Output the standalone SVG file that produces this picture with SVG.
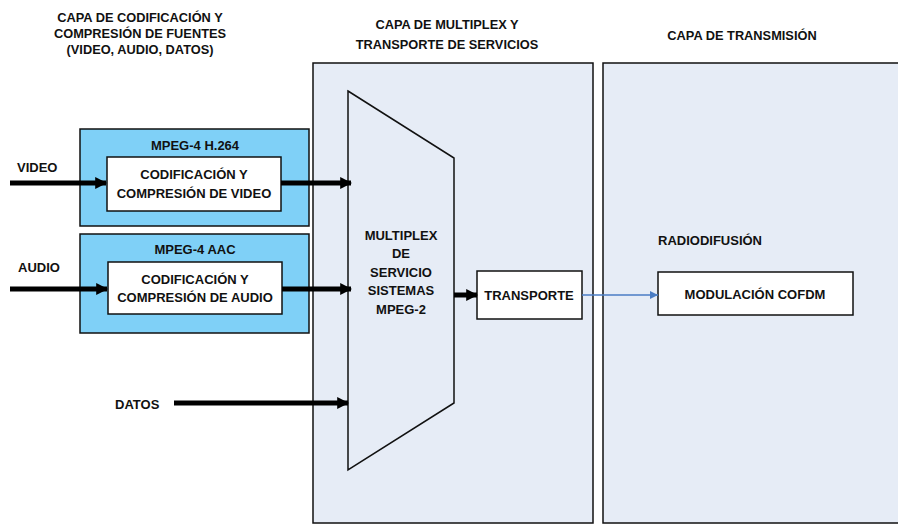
<svg xmlns="http://www.w3.org/2000/svg" width="898" height="525" viewBox="0 0 898 525">
<defs>
<style>
text{font-family:"Liberation Sans",Arial,sans-serif;font-weight:bold;fill:#111;}
.t{font-size:12.8px;text-anchor:middle;}
.s{font-size:13px;text-anchor:middle;}
.l{font-size:13px;}
.panel{fill:#e6ecf6;stroke:#111;stroke-width:1.5;}
.blue{fill:#7fd0f7;stroke:#111;stroke-width:1.5;}
.box{fill:#fff;stroke:#111;stroke-width:1.5;}
.thick{stroke:#000;stroke-width:5;fill:none;}
</style>
<marker id="ah" viewBox="0 0 10 10" refX="9" refY="5" markerWidth="2.4" markerHeight="2.8" orient="auto" markerUnits="strokeWidth">
<path d="M0,0 L10,5 L0,10 z" fill="#000"/>
</marker>
<marker id="ab" viewBox="0 0 10 10" refX="10" refY="5" markerWidth="10" markerHeight="8" orient="auto" markerUnits="userSpaceOnUse">
<path d="M0,0 L10,5 L0,10 z" fill="#4a7cc4"/>
</marker>
</defs>
<rect width="898" height="525" fill="#fff"/>
<g id="titles">
<text class="t" x="140" y="22">CAPA DE CODIFICACIÓN Y</text>
<text class="t" x="140" y="38">COMPRESIÓN DE FUENTES</text>
<text class="t" x="140" y="54">(VIDEO, AUDIO, DATOS)</text>
<text class="t" x="447" y="29">CAPA DE MULTIPLEX Y</text>
<text class="t" x="447" y="49">TRANSPORTE DE SERVICIOS</text>
<text class="t" x="742" y="40">CAPA DE TRANSMISIÓN</text>
</g>
<g id="panel-multiplex"><rect class="panel" x="313" y="63" width="280" height="460"/></g>
<g id="panel-transmision"><rect class="panel" x="603" y="63" width="300" height="460"/></g>
<g id="video-block">
<rect class="blue" x="80" y="129" width="229" height="97"/>
<text class="s" x="195" y="150">MPEG-4 H.264</text>
<rect class="box" x="107" y="157" width="174" height="54"/>
<text class="s" x="194" y="179">CODIFICACIÓN Y</text>
<text class="s" x="194" y="198">COMPRESIÓN DE VIDEO</text>
</g>
<g id="audio-block">
<rect class="blue" x="80" y="234" width="229" height="99"/>
<text class="s" x="195" y="254">MPEG-4 AAC</text>
<rect class="box" x="108" y="262" width="174" height="52"/>
<text class="s" x="195" y="284">CODIFICACIÓN Y</text>
<text class="s" x="195" y="302">COMPRESIÓN DE AUDIO</text>
</g>
<g id="multiplexor">
<polygon points="348,91 454,158 454,403 348,470" fill="#e6ecf6" stroke="#111" stroke-width="1.5"/>
<text class="s" x="401" y="240">MULTIPLEX</text>
<text class="s" x="401" y="258">DE</text>
<text class="s" x="401" y="277">SERVICIO</text>
<text class="s" x="401" y="295">SISTEMAS</text>
<text class="s" x="401" y="314">MPEG-2</text>
</g>
<g id="transporte">
<rect class="box" x="477" y="271" width="105" height="48"/>
<text class="s" x="529" y="300">TRANSPORTE</text>
</g>
<g id="radiodifusion">
<text class="l" x="658" y="245">RADIODIFUSIÓN</text>
<rect class="box" x="658" y="272" width="195" height="43"/>
<text class="s" x="755" y="299">MODULACIÓN COFDM</text>
</g>
<g id="labels">
<text class="l" x="17" y="172">VIDEO</text>
<text class="l" x="18" y="272">AUDIO</text>
<text class="l" x="115" y="409">DATOS</text>
</g>
<g id="connectors">
<line class="thick" x1="10" y1="183" x2="106" y2="183" marker-end="url(#ah)"/>
<line class="thick" x1="281" y1="183" x2="351" y2="183" marker-end="url(#ah)"/>
<line class="thick" x1="10" y1="289" x2="107" y2="289" marker-end="url(#ah)"/>
<line class="thick" x1="282" y1="289" x2="351" y2="289" marker-end="url(#ah)"/>
<line class="thick" x1="174" y1="403" x2="348" y2="403" marker-end="url(#ah)"/>
<line class="thick" x1="454" y1="295" x2="477" y2="295" marker-end="url(#ah)"/>
<line x1="582" y1="295" x2="658" y2="295" stroke="#4a7cc4" stroke-width="1.3" marker-end="url(#ab)"/>
</g>
</svg>
